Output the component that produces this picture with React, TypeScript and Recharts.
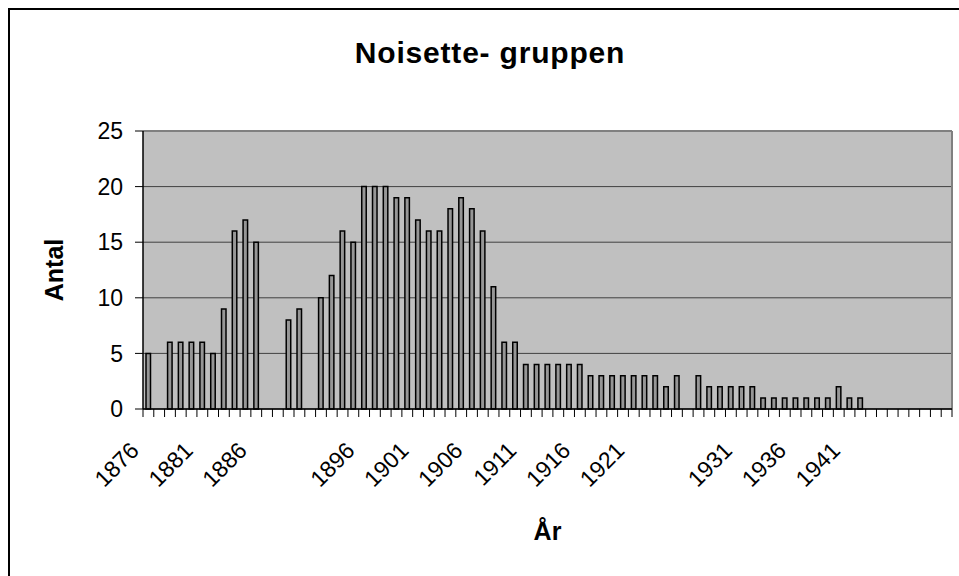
import React from 'react';
import { BarChart, Bar, XAxis, YAxis, CartesianGrid, ReferenceLine } from 'recharts';

const years = [
  1876, 1877, 1878, 1879, 1880, 1881, 1882, 1883, 1884, 1885,
  1886, 1887, 1888, 1889, 1890, 1891, 1892, 1893, 1894, 1895,
  1896, 1897, 1898, 1899, 1900, 1901, 1902, 1903, 1904, 1905,
  1906, 1907, 1908, 1909, 1910, 1911, 1912, 1913, 1914, 1915,
  1916, 1917, 1918, 1919, 1920, 1921, 1922, 1923, 1924, 1925,
  1926, 1927, 1928, 1929, 1930, 1931, 1932, 1933, 1934, 1935,
  1936, 1937, 1938, 1939, 1940, 1941, 1942, 1943, 1944, 1945,
  1946, 1947, 1948, 1949, 1950,
];

const antal: (number | null)[] = [
  5, null, 6, 6, 6, 6, 5, 9, 16, 17,
  15, null, null, 8, 9, null, 10, 12, 16, 15,
  20, 20, 20, 19, 19, 17, 16, 16, 18, 19,
  18, 16, 11, 6, 6, 4, 4, 4, 4, 4,
  4, 3, 3, 3, 3, 3, 3, 3, 2, 3,
  null, 3, 2, 2, 2, 2, 2, 1, 1, 1,
  1, 1, 1, 1, 2, 1, 1, null, null, null,
  null, null, null, null, null,
];

const yTicks = [0, 5, 10, 15, 20, 25];
const labelStep = 5;

const title = 'Noisette- gruppen';
const yTitle = 'Antal';
const xTitle = 'År';

const data = years.map((y, i) => ({ year: String(y), value: antal[i] }));

const W = 959;
const H = 576;
const MARGIN = { top: 131, right: 7, bottom: 0, left: 0 };
const Y_AXIS_W = 143;
const X_AXIS_H = 167;
const FONT = '"Liberation Sans", Arial, sans-serif';
const PLOT_W = W - MARGIN.left - MARGIN.right - Y_AXIS_W;
const HALF_BAND = PLOT_W / years.length / 2;

const XTick = (props: any) => {
  const { x, y, payload } = props;
  const i = payload?.index ?? props.index ?? 0;
  const half = HALF_BAND;
  const show = i % labelStep === 0 && antal[i] != null;
  const ax = x - 8;
  const ay = y + 43;
  return (
    <g>
      <line x1={x - half} x2={x - half} y1={y} y2={y + 8} stroke="#000" strokeWidth={1} />
      {i === years.length - 1 && (
        <line x1={x + half} x2={x + half} y1={y} y2={y + 8} stroke="#000" strokeWidth={1} />
      )}
      {show && (
        <text
          x={ax}
          y={ay}
          textAnchor="end"
          transform={`rotate(-45 ${ax} ${ay})`}
          fontSize={23}
          fontFamily={FONT}
          fill="#000"
        >
          {payload.value}
        </text>
      )}
    </g>
  );
};

const YTitle = (props: any) => {
  const vb = props.viewBox || { x: 0, y: 131, width: 143, height: 278 };
  const cx = vb.x + 63;
  const cy = vb.y + vb.height / 2;
  return (
    <text
      x={cx}
      y={cy}
      textAnchor="middle"
      transform={`rotate(-90 ${cx} ${cy})`}
      fontSize={25}
      fontWeight="bold"
      fontFamily={FONT}
      fill="#000"
    >
      {yTitle}
    </text>
  );
};

const XTitle = (props: any) => {
  const vb = props.viewBox || { x: 143, y: 409, width: 809, height: 167 };
  return (
    <text
      x={vb.x + vb.width / 2}
      y={vb.y + 131}
      textAnchor="middle"
      fontSize={25}
      fontWeight="bold"
      fontFamily={FONT}
      fill="#000"
    >
      {xTitle}
    </text>
  );
};

export default function App() {
  return (
    <div style={{ position: 'absolute', left: 0, top: 0, width: W, height: H, background: '#fff', overflow: 'hidden' }}>
      <div
        style={{
          position: 'absolute',
          left: 8,
          top: 8,
          width: W - 8,
          height: H - 8,
          borderLeft: '2px solid #000',
          borderTop: '2px solid #000',
          boxSizing: 'border-box',
        }}
      />
      <div
        style={{
          position: 'absolute',
          left: 290,
          top: 38,
          width: 400,
          textAlign: 'center',
          fontFamily: FONT,
          fontWeight: 'bold',
          fontSize: 30,
          lineHeight: '30px',
          letterSpacing: 0.8,
          color: '#000',
        }}
      >
        {title}
      </div>
      <div style={{ position: 'absolute', left: 0, top: 0 }}>
        <BarChart width={W} height={H} data={data} margin={MARGIN} barSize={4.5}>
          <CartesianGrid
            vertical={false}
            stroke="#404040"
            strokeWidth={1}
            fill="#C0C0C0"
            fillOpacity={1}
          />
          <XAxis
            dataKey="year"
            interval={0}
            height={X_AXIS_H}
            tickLine={false}
            tickSize={0}
            tickMargin={0}
            axisLine={{ stroke: '#000', strokeWidth: 1.5 }}
            tick={<XTick />}
            label={{ content: <XTitle /> }}
          />
          <YAxis
            width={Y_AXIS_W}
            domain={[0, 25]}
            ticks={yTicks}
            interval={0}
            tickSize={8}
            tickMargin={12}
            tickLine={{ stroke: '#000', strokeWidth: 1 }}
            axisLine={{ stroke: '#000', strokeWidth: 1.5 }}
            tick={{ fontSize: 23, fontFamily: FONT, fill: '#000' }}
            label={{ content: <YTitle /> }}
          />
          <ReferenceLine y={25} stroke="#808080" strokeWidth={2} />
          <ReferenceLine x={String(years[years.length - 1])} position="end" stroke="#808080" strokeWidth={2} />
          <Bar
            dataKey="value"
            fill="#969696"
            stroke="#000"
            strokeWidth={1.5}
            isAnimationActive={false}
          />
        </BarChart>
      </div>
    </div>
  );
}
